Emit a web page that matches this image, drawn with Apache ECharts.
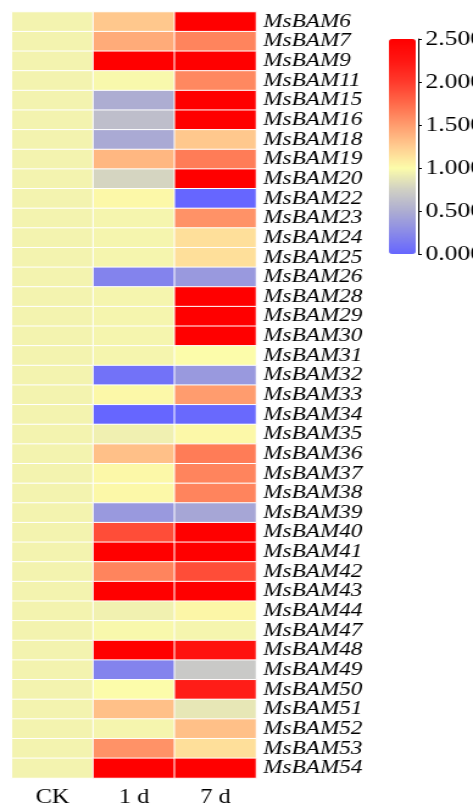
<!DOCTYPE html>
<html>
<head>
<meta charset="utf-8">
<script src="https://cdn.jsdelivr.net/npm/echarts/dist/echarts.min.js"></script>
<style>
  html, body { margin: 0; padding: 0; background: #ffffff; overflow: hidden; }
  #wrap { width: 473px; height: 809px; overflow: hidden; }
  #chart { width: 388px; height: 809px; transform: scaleX(1.2191); transform-origin: 0 0; }
</style>
</head>
<body>
<div id="wrap"><div id="chart"></div></div>
<script>
// ---- data ----
const genes = ["MsBAM6","MsBAM7","MsBAM9","MsBAM11","MsBAM15","MsBAM16","MsBAM18","MsBAM19","MsBAM20","MsBAM22",
  "MsBAM23","MsBAM24","MsBAM25","MsBAM26","MsBAM28","MsBAM29","MsBAM30","MsBAM31","MsBAM32","MsBAM33",
  "MsBAM34","MsBAM35","MsBAM36","MsBAM37","MsBAM38","MsBAM39","MsBAM40","MsBAM41","MsBAM42","MsBAM43",
  "MsBAM44","MsBAM47","MsBAM48","MsBAM49","MsBAM50","MsBAM51","MsBAM52","MsBAM53","MsBAM54"];
const conditions = ["CK", "1 d", "7 d"];
const valuesCK = [0.95,0.95,0.95,0.95,0.95,0.95,0.95,0.95,0.95,0.95,
  0.95,0.95,0.95,0.95,0.95,0.95,0.95,0.95,0.95,0.95,
  0.95,0.95,0.95,0.95,0.95,0.95,0.95,0.95,0.95,0.95,
  0.95,0.95,0.95,0.95,0.95,0.95,0.95,0.95,0.95];
const values1d = [1.27,1.42,2.5,0.98,0.5,0.62,0.48,1.36,0.78,1.02,
  0.96,0.96,0.96,0.2,0.96,0.96,0.96,0.96,0.08,1.02,
  0.0,0.93,1.31,1.02,1.02,0.36,1.9,2.5,1.62,2.5,
  0.94,0.98,2.5,0.2,1.0,1.31,0.96,1.55,2.5];
const values7d = [2.5,1.62,2.5,1.6,2.5,2.5,1.27,1.66,2.5,0.0,
  1.55,1.15,1.15,0.36,2.5,2.5,2.5,1.0,0.36,1.5,
  0.02,1.02,1.66,1.62,1.62,0.45,2.5,2.5,1.9,2.5,
  1.03,0.96,2.3,0.7,2.2,0.88,1.31,1.15,2.5];
const scaleMin = 0, scaleMax = 2.5, scaleStep = 0.5;
const scaleColors = ["#6666ff","#8a8ae8","#adadd2","#d0d0c4","#fcfcaa","#ffcc90","#ff9c6e","#ff6a4a","#ff3a2c","#ff1612","#ff0000"];

// ---- build ----
const columns = [valuesCK, values1d, values7d];
const cells = [];
columns.forEach((col, xi) => col.forEach((v, yi) => cells.push([xi, yi, v])));

const FONT = "Liberation Serif";
const chart = echarts.init(document.getElementById('chart'), null, { renderer: 'canvas' });
chart.setOption({
  backgroundColor: '#ffffff',
  animation: false,
  grid: [
    { left: 9.8, top: 12, width: 200.2, height: 766, containLabel: false },
    { left: 343, top: 39, width: 0, height: 215, containLabel: false }
  ],
  xAxis: [
    { type: 'category', gridIndex: 0, data: conditions, position: 'bottom',
      axisLine: { show: false }, axisTick: { show: false }, splitLine: { show: false },
      axisLabel: { fontFamily: FONT, fontSize: 20, color: '#000', margin: 10 } },
    { type: 'value', gridIndex: 1, show: false }
  ],
  yAxis: [
    { type: 'category', gridIndex: 0, data: genes, inverse: true, position: 'right',
      axisLine: { show: false }, axisTick: { show: false }, splitLine: { show: false },
      axisLabel: { interval: 0, fontFamily: FONT, fontSize: 19, fontStyle: 'italic', color: '#000', margin: 6 } },
    { type: 'value', gridIndex: 1, position: 'right', min: scaleMin, max: scaleMax, interval: scaleStep,
      axisLine: { show: true, lineStyle: { color: '#000', width: 1 } },
      axisTick: { show: true, length: 3, lineStyle: { color: '#000' } },
      splitLine: { show: false },
      axisLabel: { fontFamily: FONT, fontSize: 21, color: '#000', margin: 6,
        formatter: v => v.toFixed(3) } }
  ],
  visualMap: {
    type: 'continuous', min: scaleMin, max: scaleMax, calculable: false,
    seriesIndex: 0, orient: 'vertical', left: 319, top: 39, padding: 0,
    itemWidth: 22, itemHeight: 215, text: null, showLabel: false,
    inRange: { color: scaleColors }
  },
  series: [{
    type: 'heatmap', xAxisIndex: 0, yAxisIndex: 0, data: cells,
    itemStyle: { borderColor: '#ffffff', borderWidth: 1 },
    emphasis: { disabled: true }
  }]
});
</script>
</body>
</html>
